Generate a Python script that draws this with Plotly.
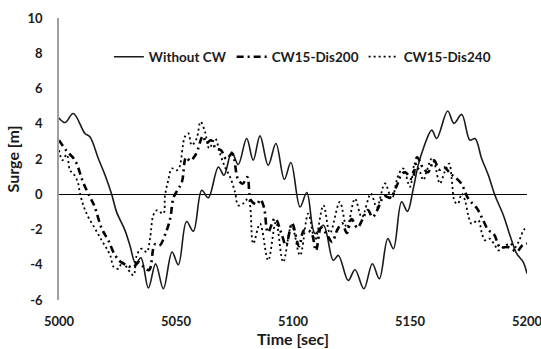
import plotly.graph_objects as go

# Without CW (solid)
t_solid = [5000, 5002.6, 5006.1, 5011.1, 5013.2, 5016.8, 5019.7, 5022.5, 5024.6, 5028.2,
           5030.3, 5032.8, 5035.0, 5038.2, 5041.3, 5044.6, 5048.3, 5051.0, 5054.5, 5057.4,
           5061.0, 5063.8, 5068.1, 5070.5, 5073.8, 5076.6, 5080.2, 5083.0, 5085.9, 5089.4,
           5092.7, 5096.3, 5099.1, 5103.0, 5105.9, 5109.4, 5113.0, 5117.2, 5119.4, 5123.6,
           5126.5, 5130.3, 5133.9, 5136.9, 5140.5, 5142.9, 5146.4, 5148.9, 5151.4, 5153.5,
           5155.7, 5159.3, 5161.4, 5166.1, 5168.8, 5172.1, 5175.6, 5177.8, 5180.6, 5183.5,
           5186.3, 5189.9, 5192.7, 5195.6, 5198.4, 5200]
v_solid = [4.33, 4.07, 4.58, 3.45, 3.26, 2.03, 1.08, 0.0, -1.0, -2.05,
           -2.9, -3.94, -3.6, -5.32, -3.95, -5.36, -3.28, -4.0, -1.55, -2.1,
           0.23, -0.2, 1.55, 1.08, 2.4, 1.69, 3.16, 1.93, 3.31, 1.65,
           2.88, 0.85, 1.8, -0.72, 0.1, -2.23, -1.76, -3.75, -3.47, -4.89,
           -4.28, -5.36, -3.94, -4.79, -2.52, -3.09, -0.43, -0.97, 0.32, 1.65,
           2.6, 3.64, 3.16, 4.72, 4.02, 4.53, 3.07, 3.16, 2.03, 1.08,
           -0.06, -1.19, -2.33, -3.37, -3.85, -4.5]

# CW15-Dis200 (dash-dot)
t_d200 = [5000, 5003, 5006.8, 5010.3, 5013, 5015, 5018.4, 5021, 5023.5, 5026,
          5029, 5031.5, 5034.2, 5036, 5038.5, 5041, 5043, 5045.7, 5047.5, 5049,
          5051, 5052.6, 5054.3, 5056, 5058.5, 5061.5, 5063, 5065, 5067, 5069.2,
          5071.5, 5074, 5076.5, 5078.5, 5080.5, 5082, 5084.6, 5086, 5087.6, 5089.3,
          5092.3, 5095, 5097, 5099.6, 5102.6, 5104.7, 5107.7, 5109.8, 5112, 5114.5,
          5116.7, 5119, 5121, 5123, 5125, 5127.5, 5129.5, 5132, 5134, 5136,
          5139, 5141.5, 5144.4, 5146.4, 5148, 5150.9, 5153, 5155.6, 5157.7, 5160.3,
          5162.5, 5164.5, 5167.5, 5171.8, 5174.8, 5178.6, 5181, 5183.3, 5186, 5188.5,
          5192, 5195.7, 5198, 5200]
v_d200 = [3.07, 2.5, 1.93, 0.68, -0.1, -0.63, -1.99, -2.6, -3.35, -3.8,
          -4.03, -4.15, -3.86, -4.1, -4.3, -2.84, -2.9, -2.16, -1.4, -0.17,
          0.3, 0.74, 2.1, 1.9, 2.27, 3.3, 2.9, 3.07, 2.6, 2.5,
          2.0, 2.3, 0.85, 0.6, 0.97, -0.34, -0.57, -0.3, -0.74, -2.16,
          -1.36, -2.2, -2.9, -1.65, -2.95, -2.05, -2.16, -3.2, -1.9, -2.3,
          -2.7, -2.0, -1.65, -2.2, -1.4, -1.9, -1.48, -0.9, -1.3, -0.9,
          -0.1, -0.2, 0.5, 1.14, 1.25, 0.85, 2.1, 1.48, 1.25, 1.93,
          1.4, 1.53, 1.14, 0.63, -0.23, -0.8, -1.4, -2.0, -2.3, -3.0,
          -3.0, -3.24, -2.9, -2.8]

# CW15-Dis240 (dotted)
t_d240 = [5000, 5001.5, 5003.3, 5004.7, 5006.1, 5008, 5009, 5010.4, 5012.5, 5015.4,
          5018.2, 5020.4, 5021.9, 5023.4, 5025.5, 5026.9, 5028.3, 5031.8, 5033.2, 5035.3,
          5037.5, 5038.9, 5040.3, 5041.8, 5044.6, 5045.3, 5046.7, 5048.2, 5050.3, 5051.5,
          5053.8, 5055.3, 5056.7, 5058.8, 5060.5, 5062.4, 5064.2, 5066.7, 5068.8, 5070.9,
          5073.1, 5075.2, 5076.6, 5078.5, 5080.9, 5083.0, 5085.9, 5089.4, 5092.7, 5095.8,
          5099.4, 5103.0, 5106.5, 5109.4, 5113.0, 5115.8, 5120.0, 5123.0, 5126.5, 5129.4,
          5133.3, 5135.8, 5139.3, 5142.2, 5145.0, 5147.1, 5150.0, 5152.1, 5154.0, 5155.7,
          5157.0, 5159.3, 5160.5, 5162.8, 5164.8, 5166.8, 5167.8, 5169.2, 5170.5, 5172.1,
          5173.5, 5174.9, 5176.3, 5179.2, 5180.6, 5182.0, 5184.0, 5186.3, 5187.7, 5189.8,
          5192.7, 5194.9, 5197.0, 5198.5, 5200]
v_d240 = [2.5, 1.93, 2.26, 1.36, 1.18, 0.7, 0.04, -0.63, -1.29, -1.95,
          -2.61, -3.09, -3.47, -4.13, -4.22, -3.85, -4.03, -4.6, -3.47, -3.09,
          -3.28, -2.52, -1.19, -0.91, -1.1, -0.06, 0.8, 1.46, 1.36, 1.55,
          3.26, 3.45, 2.78, 3.16, 4.11, 3.54, 2.6, 3.16, 2.31, 1.55,
          0.98, 0.13, -0.63, -0.55, -0.25, -2.8, -1.67, -3.75, -1.57, -3.85,
          -1.76, -3.47, -1.1, -2.6, -0.63, -2.2, -0.44, -1.9, -0.25, -1.3,
          0.04, -0.75, 0.61, -0.25, 1.08, 1.46, 0.42, 1.74, 1.36, 0.8,
          1.27, 2.03, 1.74, 0.61, 1.27, 1.74, 0.89, -0.44, -0.53, 0.04,
          -0.34, -1.19, -1.67, -1.48, -2.14, -2.61, -2.52, -2.9, -3.18, -3.0,
          -2.8, -3.0, -2.52, -2.05, -1.86]

x_ticks = [5000, 5050, 5100, 5150, 5200]
y_ticks = [-6, -4, -2, 0, 2, 4, 6, 8, 10]

FONT = "Lato"
INK = "#1a1a1a"

fig = go.Figure()
fig.add_trace(go.Scatter(x=t_solid, y=v_solid, mode="lines", name="Without CW",
                         line=dict(color=INK, width=1.6, shape="spline")))
fig.add_trace(go.Scatter(x=t_d200, y=v_d200, mode="lines", name="CW15-Dis200",
                         line=dict(color="#000000", width=2.6, shape="spline",
                                   dash="7px,4px,2px,4px")))
fig.add_trace(go.Scatter(x=t_d240, y=v_d240, mode="lines", name="CW15-Dis240",
                         line=dict(color="#000000", width=1.8, shape="spline",
                                   dash="2px,3px")))

fig.update_layout(
    width=541, height=349,
    margin=dict(l=59, r=14, t=18, b=49),
    paper_bgcolor="white", plot_bgcolor="white",
    font=dict(family=FONT, size=12, color=INK, weight="bold"),
    showlegend=True,
    legend=dict(orientation="h", x=0.52, y=0.862, xanchor="center", yanchor="middle",
                font=dict(family=FONT, size=13.5, weight="bold", color=INK),
                bgcolor="rgba(0,0,0,0)", itemwidth=30, tracegroupgap=0),
    xaxis=dict(range=[5000, 5200], tickvals=x_ticks, ticktext=[str(v) for v in x_ticks],
               showgrid=False, zeroline=False, showline=False, ticks="",
               automargin=False, ticklabeloverflow="allow",
               ticklabelstandoff=12,
               tickfont=dict(family=FONT, size=13, weight="bold", color=INK),
               title=dict(text="Time [sec]", standoff=2,
                          font=dict(family=FONT, size=16, weight="bold", color=INK))),
    yaxis=dict(range=[-6, 10], tickvals=y_ticks, ticktext=[str(v) for v in y_ticks],
               showgrid=False, zeroline=True, zerolinecolor="#000000", zerolinewidth=1,
               showline=True, linecolor="#a0a0a0", linewidth=1.5, ticks="",
               automargin=False, ticklabeloverflow="allow",
               ticklabelstandoff=12,
               tickfont=dict(family=FONT, size=13, weight="bold", color=INK),
               title=dict(text="Surge [m]", standoff=4,
                          font=dict(family=FONT, size=16, weight="bold", color=INK))),
)

fig.write_html("out.html")
